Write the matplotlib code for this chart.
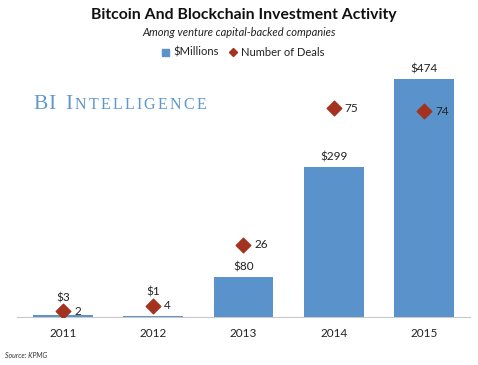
import matplotlib.pyplot as plt

years = ['2011', '2012', '2013', '2014', '2015']
millions = [3, 1, 80, 299, 474]
deals = [2, 4, 26, 75, 74]

bar_color = '#5a93cb'
deal_color = '#a3321f'
txt = '#222222'

plt.rcParams['font.family'] = ['Lato', 'DejaVu Sans']

fig = plt.figure(figsize=(4.78, 3.65), dpi=100)
ax = fig.add_axes([17/478, 48/365, 453/478, 257/365])
ax2 = ax.twinx()

x = list(range(len(years)))
ax.bar(x, millions, width=0.66, color=bar_color, zorder=2)
ax2.scatter(x, deals, marker='D', s=55, color=deal_color, zorder=3)

ax.set_xlim(-0.51, 4.51)
ax.set_ylim(0, 512)
ax2.set_ylim(0, 92.4)

fig.canvas.draw()
for i, v in enumerate(millions):
    # tiny bars: put the value label above the diamond so they don't collide
    bar_top = ax.transData.transform((i, v))[1]
    dia = ax2.transData.transform((i, deals[i]))[1]
    if dia > bar_top - 2 and dia < bar_top + 30:
        ax2.annotate(f'${v}', (i, deals[i]), xytext=(0, 6), textcoords='offset points',
                     ha='center', va='bottom', fontsize=8.5, color=txt)
    else:
        ax.annotate(f'${v}', (i, v), xytext=(0, 3), textcoords='offset points',
                    ha='center', va='bottom', fontsize=8.5, color=txt)
for i, d in enumerate(deals):
    ax2.annotate(str(d), (i, d), xytext=(8, 0), textcoords='offset points',
                 ha='left', va='center', fontsize=8.5, color=txt)

ax.set_xticks(x)
ax.set_xticklabels(years, fontsize=8.5, color=txt)
ax.tick_params(axis='x', length=0, pad=8)
ax.set_yticks([])
ax2.set_yticks([])
for a in (ax, ax2):
    for s in ['top', 'right', 'left']:
        a.spines[s].set_visible(False)
    a.spines['bottom'].set_color('#c8c8c8')
ax2.spines['bottom'].set_visible(False)

fig.text(0.5 + 5/478, 1 - 15/365, 'Bitcoin And Blockchain Investment Activity',
         ha='center', va='center', fontsize=11.3, fontweight='bold', color='#111111')
fig.text(0.5, 1 - 33/365, 'Among venture capital-backed companies',
         ha='center', va='center', fontsize=8, style='italic', color=txt)

# legend
fig.patches.append(plt.Rectangle((162/478, 1 - 56/365), 7/478, 7/365,
                                 transform=fig.transFigure, color=bar_color))
fig.text(173/478, 1 - 52/365, '$Millions', ha='left', va='center', fontsize=8, color=txt)
fig.add_artist(plt.Line2D([233/478], [1 - 52/365], marker='D', markersize=4.5,
                          color=deal_color, transform=fig.transFigure))
fig.text(241/478, 1 - 52/365, 'Number of Deals', ha='left', va='center', fontsize=8, color=txt)

# watermark in letter-spaced small caps
wm = '#5f98cf'
renderer = fig.canvas.get_renderer()
px = 33
for word, size, gap in [('BI', 15.5, 0.5), (' ', 15.5, 0), ('I', 15.5, 2), ('NTELLIGENCE', 11.5, 2.2)]:
    for ch in word:
        t = fig.text(px/478, 1 - 109/365, ch, ha='left', va='baseline', fontsize=size,
                     family='Liberation Serif', color=wm)
        w = t.get_window_extent(renderer).width
        if ch == ' ':
            w = 10
        px += w + gap

fig.text(5/478, 1 - 355/365, 'Source: KPMG', ha='left', va='center', fontsize=5,
         style='italic', color='#333333')

fig.savefig('out.png', dpi=100)
